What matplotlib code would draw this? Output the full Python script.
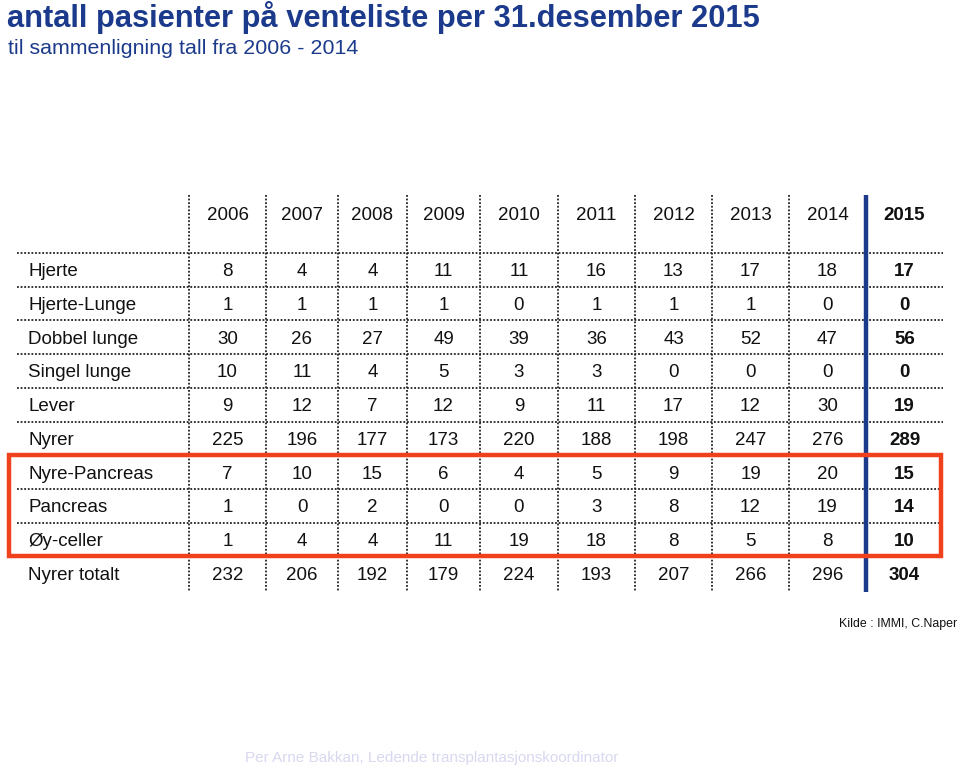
import matplotlib
matplotlib.use("Agg")
import matplotlib.pyplot as plt
from matplotlib.patches import Rectangle

plt.rcParams['font.family'] = ['Liberation Sans', 'DejaVu Sans']

# ---- data ----
title = "antall pasienter på venteliste per 31.desember 2015"
subtitle = "til sammenligning tall fra 2006 - 2014"
years = ["2006", "2007", "2008", "2009", "2010", "2011", "2012", "2013", "2014", "2015"]
categories = ["Hjerte", "Hjerte-Lunge", "Dobbel lunge", "Singel lunge", "Lever", "Nyrer",
              "Nyre-Pancreas", "Pancreas", "Øy-celler", "Nyrer totalt"]
hjerte = [8, 4, 4, 11, 11, 16, 13, 17, 18, 17]
hjerte_lunge = [1, 1, 1, 1, 0, 1, 1, 1, 0, 0]
dobbel_lunge = [30, 26, 27, 49, 39, 36, 43, 52, 47, 56]
singel_lunge = [10, 11, 4, 5, 3, 3, 0, 0, 0, 0]
lever = [9, 12, 7, 12, 9, 11, 17, 12, 30, 19]
nyrer = [225, 196, 177, 173, 220, 188, 198, 247, 276, 289]
nyre_pancreas = [7, 10, 15, 6, 4, 5, 9, 19, 20, 15]
pancreas = [1, 0, 2, 0, 0, 3, 8, 12, 19, 14]
oy_celler = [1, 4, 4, 11, 19, 18, 8, 5, 8, 10]
nyrer_totalt = [232, 206, 192, 179, 224, 193, 207, 266, 296, 304]
source = "Kilde : IMMI, C.Naper"
footer = "Per Arne Bakkan, Ledende transplantasjonskoordinator"

rows = [hjerte, hjerte_lunge, dobbel_lunge, singel_lunge, lever, nyrer,
        nyre_pancreas, pancreas, oy_celler, nyrer_totalt]

# ---- layout (pixel coordinates) ----
W, H = 960, 770
col_edges = [189, 266, 338, 407, 480, 558, 635, 712, 789, 866, 943]
header_y = 216
row_top = 253
row_h = 33.7
text_dy = 2
line_left = 17
grid_top, grid_bottom = 195, 592
navy = "#1c3a8c"
red = "#f0401c"
fs = 13.5

fig = plt.figure(figsize=(W / 100, H / 100), dpi=100)
ax = fig.add_axes([0, 0, 1, 1])
ax.set_xlim(0, W)
ax.set_ylim(H, 0)
ax.axis("off")

ax.text(7, 18, title, fontsize=22.2, fontweight="bold", color=navy, va="center", ha="left")
ax.text(8, 49, subtitle, fontsize=15.4, color=navy, va="center", ha="left")

# vertical dotted lines
for x in col_edges[:-2]:
    ax.plot([x, x], [grid_top, grid_bottom], color="#222222", lw=1.3, ls=(0, (1, 1)))
# horizontal dotted lines
for i in range(len(categories)):
    y = row_top + i * row_h
    ax.plot([line_left, col_edges[-1]], [y, y], color="#222222", lw=1.3, ls=(0, (1, 1)))

# blue separator
ax.plot([col_edges[-2], col_edges[-2]], [grid_top, grid_bottom], color=navy, lw=3.2,
        solid_capstyle="butt")

# header
centers = [(col_edges[i] + col_edges[i + 1]) / 2 for i in range(len(years))]
for j, yr in enumerate(years):
    ax.text(centers[j], header_y, yr, fontsize=fs, ha="center", va="center",
            fontweight="bold" if j == len(years) - 1 else "normal", color="#111111")

# rows
for i, (cat, vals) in enumerate(zip(categories, rows)):
    yc = row_top + (i + 0.5) * row_h + text_dy
    ax.text(28, yc, cat, fontsize=fs, ha="left", va="center", color="#111111")
    for j, v in enumerate(vals):
        ax.text(centers[j], yc, str(v), fontsize=fs, ha="center", va="center",
                fontweight="bold" if j == len(vals) - 1 else "normal", color="#111111")

# red highlight box around rows 6-8
r0 = categories.index("Nyre-Pancreas")
r1 = categories.index("Øy-celler")
y0 = row_top + r0 * row_h
y1 = row_top + (r1 + 1) * row_h
ax.add_patch(Rectangle((9, y0), 941 - 9, y1 - y0, fill=False, edgecolor=red, lw=3.2, zorder=5))

ax.text(957, 624, source, fontsize=8.9, ha="right", va="center", color="#111111")
ax.text(432, 758, footer, fontsize=11, ha="center", va="center", color="#d8d8f0")

fig.savefig("out.png", dpi=100)
